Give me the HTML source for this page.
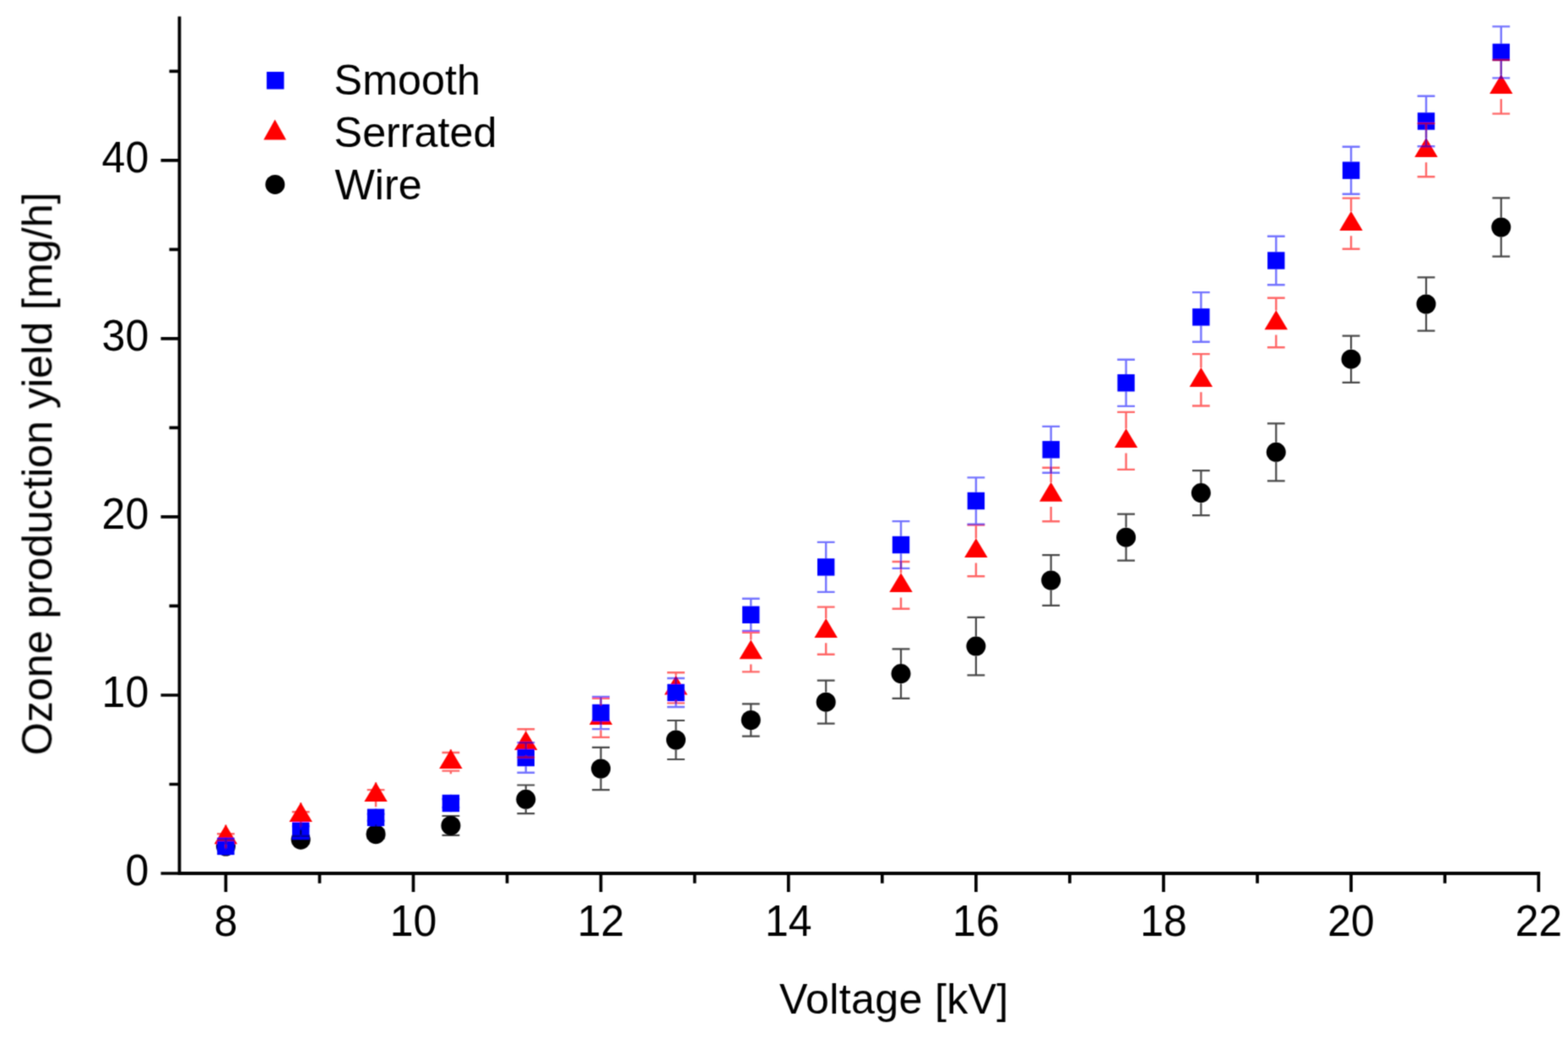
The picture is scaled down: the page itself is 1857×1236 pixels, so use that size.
<!DOCTYPE html>
<html><head><meta charset="utf-8"><style>
html,body{margin:0;padding:0;background:#fff;width:1857px;height:1236px;overflow:hidden}
svg{display:block;font-family:"Liberation Sans",Arial,sans-serif}
</style></head><body>
<svg width="1857" height="1236" viewBox="0 0 1857 1236">
<defs><filter id="b" x="0" y="0" width="1857" height="1236" filterUnits="userSpaceOnUse"><feConvolveMatrix order="3" kernelMatrix="0.04 0.12 0.04 0.12 0.36 0.12 0.04 0.12 0.04" edgeMode="none"/></filter></defs>
<rect width="1857" height="1236" fill="#fff"/>
<g filter="url(#b)">
<g><circle cx="267.4" cy="1002.0" r="11.5" fill="#000"/><circle cx="356.2" cy="994.1" r="11.5" fill="#000"/><circle cx="445.1" cy="987.6" r="11.5" fill="#000"/><circle cx="533.9" cy="977.4" r="11.5" fill="#000"/><circle cx="622.8" cy="946.3" r="11.5" fill="#000"/><circle cx="711.6" cy="910.0" r="11.5" fill="#000"/><circle cx="800.5" cy="876.0" r="11.5" fill="#000"/><circle cx="889.3" cy="852.5" r="11.5" fill="#000"/><circle cx="978.2" cy="831.2" r="11.5" fill="#000"/><circle cx="1067.0" cy="797.6" r="11.5" fill="#000"/><circle cx="1155.9" cy="765.1" r="11.5" fill="#000"/><circle cx="1244.7" cy="687.0" r="11.5" fill="#000"/><circle cx="1333.6" cy="636.2" r="11.5" fill="#000"/><circle cx="1422.4" cy="583.6" r="11.5" fill="#000"/><circle cx="1511.3" cy="535.3" r="11.5" fill="#000"/><circle cx="1600.1" cy="425.2" r="11.5" fill="#000"/><circle cx="1689.0" cy="360.0" r="11.5" fill="#000"/><circle cx="1777.8" cy="269.0" r="11.5" fill="#000"/></g>
<g><path d="M267.4 976.3L281.1 999.2H253.7Z" fill="#ff0000"/><path d="M356.2 950.1L369.9 973.0H342.5Z" fill="#ff0000"/><path d="M445.1 926.1L458.8 949.0H431.4Z" fill="#ff0000"/><path d="M533.9 887.1L547.6 910.0H520.2Z" fill="#ff0000"/><path d="M622.8 865.2L636.5 888.1H609.1Z" fill="#ff0000"/><path d="M711.6 835.1L725.3 858.0H697.9Z" fill="#ff0000"/><path d="M800.5 799.6L814.2 822.5H786.8Z" fill="#ff0000"/><path d="M889.3 757.4L903.0 780.3H875.6Z" fill="#ff0000"/><path d="M978.2 732.0L991.9 754.9H964.5Z" fill="#ff0000"/><path d="M1067.0 678.2L1080.7 701.1H1053.3Z" fill="#ff0000"/><path d="M1155.9 637.2L1169.6 660.1H1142.2Z" fill="#ff0000"/><path d="M1244.7 570.8L1258.4 593.7H1231.0Z" fill="#ff0000"/><path d="M1333.6 507.2L1347.3 530.1H1319.9Z" fill="#ff0000"/><path d="M1422.4 435.1L1436.1 458.0H1408.7Z" fill="#ff0000"/><path d="M1511.3 367.3L1525.0 390.2H1497.6Z" fill="#ff0000"/><path d="M1600.1 250.0L1613.8 272.9H1586.4Z" fill="#ff0000"/><path d="M1689.0 163.0L1702.7 185.9H1675.3Z" fill="#ff0000"/><path d="M1777.8 88.1L1791.5 111.0H1764.1Z" fill="#ff0000"/></g>
<g><rect x="257.2" y="991.7" width="20.4" height="20.4" fill="#0000ff"/><rect x="346.0" y="973.4" width="20.4" height="20.4" fill="#0000ff"/><rect x="434.9" y="957.6" width="20.4" height="20.4" fill="#0000ff"/><rect x="523.7" y="940.8" width="20.4" height="20.4" fill="#0000ff"/><rect x="612.6" y="886.8" width="20.4" height="20.4" fill="#0000ff"/><rect x="701.4" y="833.8" width="20.4" height="20.4" fill="#0000ff"/><rect x="790.3" y="809.8" width="20.4" height="20.4" fill="#0000ff"/><rect x="879.1" y="717.6" width="20.4" height="20.4" fill="#0000ff"/><rect x="968.0" y="661.2" width="20.4" height="20.4" fill="#0000ff"/><rect x="1056.8" y="634.8" width="20.4" height="20.4" fill="#0000ff"/><rect x="1145.7" y="582.8" width="20.4" height="20.4" fill="#0000ff"/><rect x="1234.5" y="522.1" width="20.4" height="20.4" fill="#0000ff"/><rect x="1323.4" y="443.1" width="20.4" height="20.4" fill="#0000ff"/><rect x="1412.2" y="365.2" width="20.4" height="20.4" fill="#0000ff"/><rect x="1501.1" y="298.3" width="20.4" height="20.4" fill="#0000ff"/><rect x="1589.9" y="191.5" width="20.4" height="20.4" fill="#0000ff"/><rect x="1678.8" y="133.3" width="20.4" height="20.4" fill="#0000ff"/><rect x="1767.6" y="51.7" width="20.4" height="20.4" fill="#0000ff"/></g>
<g fill="none" stroke-width="2.4">
<g stroke="rgba(0,0,0,0.72)" stroke-width="2.2"><path d="M345.8 989.6H366.6M356.2 989.6V982.5M356.2 1005.7V998.6M345.8 998.6H366.6"/><path d="M434.7 982.6H455.5M445.1 982.6V976.0M445.1 999.2V992.6M434.7 992.6H455.5"/><path d="M523.5 966.0H544.3M533.9 966.0V965.8M533.9 989.0V988.8M523.5 988.8H544.3"/><path d="M612.4 929.5H633.2M622.8 929.5V934.7M622.8 957.9V963.1M612.4 963.1H633.2"/><path d="M701.2 884.9H722.0M711.6 884.9V898.4M711.6 921.6V935.1M701.2 935.1H722.0"/><path d="M790.1 853.0H810.9M800.5 853.0V864.4M800.5 887.6V899.0M790.1 899.0H810.9"/><path d="M878.9 833.3H899.7M889.3 833.3V840.9M889.3 864.1V871.7M878.9 871.7H899.7"/><path d="M967.8 805.7H988.6M978.2 805.7V819.6M978.2 842.8V856.7M967.8 856.7H988.6"/><path d="M1056.6 768.4H1077.4M1067.0 768.4V786.0M1067.0 809.2V826.8M1056.6 826.8H1077.4"/><path d="M1145.5 730.9H1166.3M1155.9 730.9V753.5M1155.9 776.7V799.3M1145.5 799.3H1166.3"/><path d="M1234.3 657.1H1255.1M1244.7 657.1V675.4M1244.7 698.6V716.9M1234.3 716.9H1255.1"/><path d="M1323.2 608.7H1344.0M1333.6 608.7V624.6M1333.6 647.8V663.7M1323.2 663.7H1344.0"/><path d="M1412.0 557.1H1432.8M1422.4 557.1V572.0M1422.4 595.2V610.1M1412.0 610.1H1432.8"/><path d="M1500.9 501.3H1521.7M1511.3 501.3V523.7M1511.3 546.9V569.3M1500.9 569.3H1521.7"/><path d="M1589.7 397.6H1610.5M1600.1 397.6V413.6M1600.1 436.8V452.8M1589.7 452.8H1610.5"/><path d="M1678.6 328.4H1699.4M1689.0 328.4V348.4M1689.0 371.6V391.6M1678.6 391.6H1699.4"/><path d="M1767.4 234.3H1788.2M1777.8 234.3V257.4M1777.8 280.6V303.7M1767.4 303.7H1788.2"/></g>
<g stroke="rgba(255,0,0,0.6)"><path d="M257.0 987.2H277.8M267.4 987.2V976.5M267.4 1005.5V994.8M257.0 994.8H277.8"/><path d="M345.8 961.2H366.6M356.2 961.2V950.3M356.2 979.3V968.4M345.8 968.4H366.6"/><path d="M434.7 935.1H455.5M445.1 935.1V926.3M445.1 955.3V946.5M434.7 946.5H455.5"/><path d="M523.5 891.0H544.3M533.9 891.0V887.3M533.9 916.3V912.6M523.5 912.6H544.3"/><path d="M612.4 863.2H633.2M622.8 863.2V865.4M622.8 894.4V896.6M612.4 896.6H633.2"/><path d="M701.2 826.7H722.0M711.6 826.7V835.3M711.6 864.3V872.9M701.2 872.9H722.0"/><path d="M790.1 796.2H810.9M800.5 796.2V799.8M800.5 828.8V832.4M790.1 832.4H810.9"/><path d="M878.9 748.8H899.7M889.3 748.8V757.6M889.3 786.6V795.4M878.9 795.4H899.7"/><path d="M967.8 718.6H988.6M978.2 718.6V732.2M978.2 761.2V774.8M967.8 774.8H988.6"/><path d="M1056.6 665.0H1077.4M1067.0 665.0V678.4M1067.0 707.4V720.8M1056.6 720.8H1077.4"/><path d="M1145.5 621.6H1166.3M1155.9 621.6V637.4M1155.9 666.4V682.2M1145.5 682.2H1166.3"/><path d="M1234.3 553.8H1255.1M1244.7 553.8V571.0M1244.7 600.0V617.2M1234.3 617.2H1255.1"/><path d="M1323.2 487.9H1344.0M1333.6 487.9V507.4M1333.6 536.4V555.9M1323.2 555.9H1344.0"/><path d="M1412.0 419.1H1432.8M1422.4 419.1V435.3M1422.4 464.3V480.5M1412.0 480.5H1432.8"/><path d="M1500.9 352.8H1521.7M1511.3 352.8V367.5M1511.3 396.5V411.2M1500.9 411.2H1521.7"/><path d="M1589.7 234.6H1610.5M1600.1 234.6V250.2M1600.1 279.2V294.8M1589.7 294.8H1610.5"/><path d="M1678.6 146.1H1699.4M1689.0 146.1V163.2M1689.0 192.2V209.3M1678.6 209.3H1699.4"/><path d="M1767.4 71.0H1788.2M1777.8 71.0V88.3M1777.8 117.3V134.6M1767.4 134.6H1788.2"/></g>
<g stroke="rgba(0,0,255,0.55)"><path d="M257.0 998.9H277.8M267.4 998.9V991.7M267.4 1012.1V1004.9M257.0 1004.9H277.8"/><path d="M345.8 978.1H366.6M356.2 978.1V973.4M356.2 993.8V989.1M345.8 989.1H366.6"/><path d="M434.7 963.8H455.5M445.1 963.8V957.6M445.1 978.0V971.8M434.7 971.8H455.5"/><path d="M523.5 946.0H544.3M533.9 946.0V940.8M533.9 961.2V956.0M523.5 956.0H544.3"/><path d="M612.4 879.2H633.2M622.8 879.2V886.8M622.8 907.2V914.8M612.4 914.8H633.2"/><path d="M701.2 824.9H722.0M711.6 824.9V833.8M711.6 854.2V863.1M701.2 863.1H722.0"/><path d="M790.1 803.0H810.9M800.5 803.0V809.8M800.5 830.2V837.0M790.1 837.0H810.9"/><path d="M878.9 708.7H899.7M889.3 708.7V717.6M889.3 738.0V746.9M878.9 746.9H899.7"/><path d="M967.8 641.9H988.6M978.2 641.9V661.2M978.2 681.6V700.9M967.8 700.9H988.6"/><path d="M1056.6 617.1H1077.4M1067.0 617.1V634.8M1067.0 655.2V672.9M1056.6 672.9H1077.4"/><path d="M1145.5 565.4H1166.3M1155.9 565.4V582.8M1155.9 603.2V620.6M1145.5 620.6H1166.3"/><path d="M1234.3 504.9H1255.1M1244.7 504.9V522.1M1244.7 542.5V559.7M1234.3 559.7H1255.1"/><path d="M1323.2 425.7H1344.0M1333.6 425.7V443.1M1333.6 463.5V480.9M1323.2 480.9H1344.0"/><path d="M1412.0 346.1H1432.8M1422.4 346.1V365.2M1422.4 385.6V404.7M1412.0 404.7H1432.8"/><path d="M1500.9 279.7H1521.7M1511.3 279.7V298.3M1511.3 318.7V337.3M1500.9 337.3H1521.7"/><path d="M1589.7 173.7H1610.5M1600.1 173.7V191.5M1600.1 211.9V229.7M1589.7 229.7H1610.5"/><path d="M1678.6 113.7H1699.4M1689.0 113.7V133.3M1689.0 153.7V173.3M1678.6 173.3H1699.4"/><path d="M1767.4 31.4H1788.2M1777.8 31.4V51.7M1777.8 72.1V92.4M1767.4 92.4H1788.2"/></g>
</g>
<g stroke="#000" fill="none" stroke-width="3.7">
<path d="M190.5 1034.0H212.5M200.5 928.5H212.5M190.5 823.0H212.5M200.5 717.4H212.5M190.5 611.9H212.5M200.5 506.4H212.5M190.5 400.9H212.5M200.5 295.3H212.5M190.5 189.8H212.5M200.5 84.3H212.5M267.4 1034.0V1056.0M378.5 1034.0V1045.7M489.5 1034.0V1056.0M600.6 1034.0V1045.7M711.6 1034.0V1056.0M822.7 1034.0V1045.7M933.8 1034.0V1056.0M1044.8 1034.0V1045.7M1155.9 1034.0V1056.0M1266.9 1034.0V1045.7M1378.0 1034.0V1056.0M1489.1 1034.0V1045.7M1600.1 1034.0V1056.0M1711.2 1034.0V1045.7M1822.2 1034.0V1056.0"/>
</g>
<path d="M212.5 21.3V1034.0H1822.2" stroke="#000" stroke-width="3.8" fill="none" stroke-linecap="square"/>
<g font-size="51" fill="#000"><text transform="translate(176.2 1047.8) scale(0.98 1)" text-anchor="end">0</text><text transform="translate(176.2 836.8) scale(0.98 1)" text-anchor="end">10</text><text transform="translate(176.2 625.7) scale(0.98 1)" text-anchor="end">20</text><text transform="translate(176.2 414.7) scale(0.98 1)" text-anchor="end">30</text><text transform="translate(176.2 203.6) scale(0.98 1)" text-anchor="end">40</text><text transform="translate(267.4 1107.9) scale(0.98 1)" text-anchor="middle">8</text><text transform="translate(489.5 1107.9) scale(0.98 1)" text-anchor="middle">10</text><text transform="translate(711.6 1107.9) scale(0.98 1)" text-anchor="middle">12</text><text transform="translate(933.8 1107.9) scale(0.98 1)" text-anchor="middle">14</text><text transform="translate(1155.9 1107.9) scale(0.98 1)" text-anchor="middle">16</text><text transform="translate(1378.0 1107.9) scale(0.98 1)" text-anchor="middle">18</text><text transform="translate(1600.1 1107.9) scale(0.98 1)" text-anchor="middle">20</text><text transform="translate(1822.2 1107.9) scale(0.98 1)" text-anchor="middle">22</text></g>
<text x="923.1" y="1200.3" font-size="50.2" letter-spacing="0.3">Voltage [kV]</text>
<text transform="translate(61.4 894.3) rotate(-90)" font-size="50.2">Ozone production yield [mg/h]</text>
<rect x="315.8" y="85" width="20.6" height="20.6" fill="#0000ff"/>
<path d="M325.6 141.6L339 165.6H312.2Z" fill="#ff0000"/>
<circle cx="325.8" cy="218.4" r="11.5" fill="#000"/>
<g font-size="50.3" fill="#000">
<text x="395.6" y="111.9">Smooth</text>
<text x="395.6" y="174.2">Serrated</text>
<text x="396.4" y="235.8">Wire</text>
</g>
</g>
</svg>
</body></html>
